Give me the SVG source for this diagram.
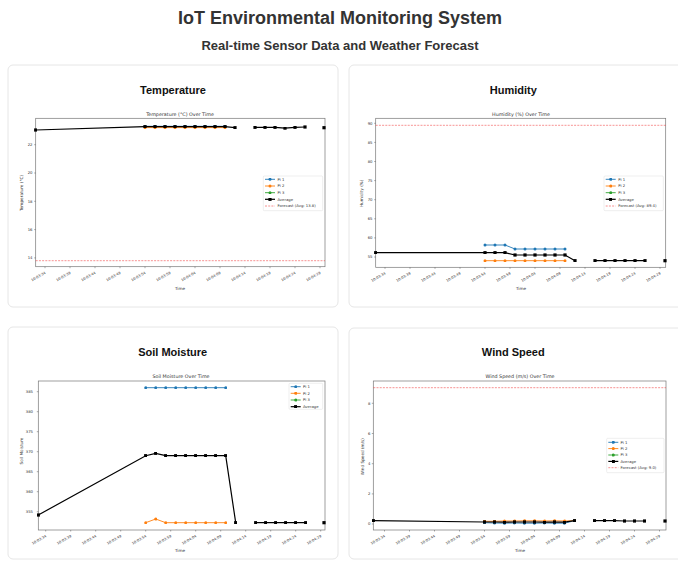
<svg xmlns="http://www.w3.org/2000/svg" width="678" height="561" viewBox="0 0 678 561">
<style>
.h1{font-family:"Liberation Sans",Arial,sans-serif;font-weight:bold;font-size:18px;fill:#333;text-anchor:middle}
.h2{font-family:"Liberation Sans",Arial,sans-serif;font-weight:bold;font-size:13px;fill:#333;text-anchor:middle}
.pt{font-family:"Liberation Sans",Arial,sans-serif;font-weight:bold;font-size:11px;fill:#111;text-anchor:middle}
.card{fill:#fff;stroke:#e6e6e6;stroke-width:1}
.ax{fill:none;stroke:#777;stroke-width:0.7}
.ct{font-family:"DejaVu Sans",sans-serif;font-size:4.8px;fill:#333;text-anchor:middle}
.al{font-family:"DejaVu Sans",sans-serif;font-size:4.2px;fill:#333;text-anchor:middle}
.yt{font-family:"DejaVu Sans",sans-serif;font-size:3.8px;fill:#333;text-anchor:end}
.xt{font-family:"DejaVu Sans",sans-serif;font-size:3.6px;fill:#333;text-anchor:end}
.lg{font-family:"DejaVu Sans",sans-serif;font-size:3.8px;fill:#333}
.tk{stroke:#555;stroke-width:0.5}
.fc{stroke:#f03030;stroke-opacity:0.75;stroke-width:0.7;stroke-dasharray:2 1.2;fill:none}
.p1{stroke:#1f77b4;stroke-width:0.9;fill:none;marker-start:url(#cb);marker-mid:url(#cb);marker-end:url(#cb)}
.p2{stroke:#ff7f0e;stroke-width:0.9;fill:none;marker-start:url(#co);marker-mid:url(#co);marker-end:url(#co)}
.p3{stroke:#2ca02c;stroke-width:0.9;fill:none;marker-start:url(#cg);marker-mid:url(#cg);marker-end:url(#cg)}
.av{stroke:#000;stroke-width:1.2;fill:none;marker-start:url(#sq);marker-mid:url(#sq);marker-end:url(#sq)}
.lb{fill:#fff;fill-opacity:0.85;stroke:#ddd;stroke-width:0.5}
</style>
<defs>
<marker id="cb" viewBox="-1.6 -1.6 3.2 3.2" markerWidth="3.2" markerHeight="3.2" markerUnits="userSpaceOnUse"><circle r="1.5" fill="#1f77b4"/></marker>
<marker id="co" viewBox="-1.6 -1.6 3.2 3.2" markerWidth="3.2" markerHeight="3.2" markerUnits="userSpaceOnUse"><circle r="1.5" fill="#ff7f0e"/></marker>
<marker id="cg" viewBox="-1.6 -1.6 3.2 3.2" markerWidth="3.2" markerHeight="3.2" markerUnits="userSpaceOnUse"><circle r="1.5" fill="#2ca02c"/></marker>
<marker id="sq" viewBox="-1.6 -1.6 3.2 3.2" markerWidth="3.2" markerHeight="3.2" markerUnits="userSpaceOnUse"><rect x="-1.6" y="-1.6" width="3.2" height="3.2" fill="#000"/></marker>
</defs>
<rect width="678" height="561" fill="#fff"/>
<g id="header">
<text class="h1" x="340" y="24">IoT Environmental Monitoring System</text>
<text class="h2" x="340" y="50">Real-time Sensor Data and Weather Forecast</text>
</g>

<g id="temperature">
<rect class="card" x="8" y="65" width="330" height="242" rx="5"/>
<text class="pt" x="173" y="94">Temperature</text>
<text class="ct" x="180" y="115.5">Temperature (°C) Over Time</text>
<rect class="ax" x="35.7" y="118.3" width="289.3" height="148.4"/>
<g class="tk">
<path d="M34.2 144.7h1.5M34.2 173h1.5M34.2 201.3h1.5M34.2 229.6h1.5M34.2 257.9h1.5"/>
<path d="M45 266.7v1.5M70 266.7v1.5M95 266.7v1.5M120 266.7v1.5M145 266.7v1.5M170 266.7v1.5M195 266.7v1.5M220 266.7v1.5M245 266.7v1.5M270 266.7v1.5M295 266.7v1.5M320 266.7v1.5"/>
</g>
<text class="yt" x="32.5" y="146">22</text>
<text class="yt" x="32.5" y="174.3">20</text>
<text class="yt" x="32.5" y="202.6">18</text>
<text class="yt" x="32.5" y="230.9">16</text>
<text class="yt" x="32.5" y="259.2">14</text>
<text class="xt" x="46" y="273.5" transform="rotate(-30 46 273.5)">10:03:34</text>
<text class="xt" x="71" y="273.5" transform="rotate(-30 71 273.5)">10:03:39</text>
<text class="xt" x="96" y="273.5" transform="rotate(-30 96 273.5)">10:03:44</text>
<text class="xt" x="121" y="273.5" transform="rotate(-30 121 273.5)">10:03:49</text>
<text class="xt" x="146" y="273.5" transform="rotate(-30 146 273.5)">10:03:54</text>
<text class="xt" x="171" y="273.5" transform="rotate(-30 171 273.5)">10:03:59</text>
<text class="xt" x="196" y="273.5" transform="rotate(-30 196 273.5)">10:04:04</text>
<text class="xt" x="221" y="273.5" transform="rotate(-30 221 273.5)">10:04:09</text>
<text class="xt" x="246" y="273.5" transform="rotate(-30 246 273.5)">10:04:14</text>
<text class="xt" x="271" y="273.5" transform="rotate(-30 271 273.5)">10:04:19</text>
<text class="xt" x="296" y="273.5" transform="rotate(-30 296 273.5)">10:04:24</text>
<text class="xt" x="321" y="273.5" transform="rotate(-30 321 273.5)">10:04:29</text>
<text class="al" x="180" y="289.5">Time</text>
<text class="al" x="23" y="193" transform="rotate(-90 23 193)">Temperature (°C)</text>
<line class="fc" x1="35.7" y1="260.7" x2="325" y2="260.7"/>
<polyline class="p1" points="145,126.3 155,126.3 165,126.3 175,126.3 185,126.3 195,126.3 205,126.3 215,126.3 225,126.3"/>
<polyline class="p2" points="145,127.6 155,127.6 165,127.6 175,127.6 185,127.6 195,127.6 205,127.6 215,127.6 225,127.6"/>
<polyline class="av" points="35.7,130 145,126.7 155,126.7 165,126.7 175,126.7 185,126.7 195,126.7 205,126.7 215,126.7 225,126.7 235,127.7"/>
<polyline class="av" points="255,127.3 265,127.3 275,127.3 285,128.1 295,127.3 305,127"/>
<rect x="322.4" y="126.1" width="3.2" height="3.2"/>
<rect class="lb" x="263.3" y="176" width="59.4" height="34.7" rx="1"/>
<polyline class="p1" points="265,179.3 270,179.3 275,179.3" style="marker-start:none;marker-end:none"/>
<polyline class="p2" points="265,186 270,186 275,186" style="marker-start:none;marker-end:none"/>
<polyline class="p3" points="265,192.7 270,192.7 275,192.7" style="marker-start:none;marker-end:none"/>
<polyline class="av" points="265,199.3 270,199.3 275,199.3" style="marker-start:none;marker-end:none"/>
<line class="fc" x1="265" y1="206" x2="275" y2="206"/>
<text class="lg" x="277.5" y="180.6">Pi 1</text>
<text class="lg" x="277.5" y="187.3">Pi 2</text>
<text class="lg" x="277.5" y="194">Pi 3</text>
<text class="lg" x="277.5" y="200.6">Average</text>
<text class="lg" x="277.5" y="207.3">Forecast (Avg: 13.8)</text>
</g>

<g id="humidity">
<rect class="card" x="349" y="65" width="340" height="242" rx="5"/>
<text class="pt" x="513.3" y="94">Humidity</text>
<text class="ct" x="521" y="115.5">Humidity (%) Over Time</text>
<rect class="ax" x="375.7" y="118.3" width="290" height="149"/>
<g class="tk">
<path d="M374.2 123.3h1.5M374.2 142.4h1.5M374.2 161.5h1.5M374.2 180.6h1.5M374.2 199.7h1.5M374.2 218.8h1.5M374.2 237.9h1.5M374.2 257h1.5"/>
<path d="M385 267.3v1.5M410 267.3v1.5M435 267.3v1.5M460 267.3v1.5M485 267.3v1.5M510 267.3v1.5M535 267.3v1.5M560 267.3v1.5M585 267.3v1.5M610 267.3v1.5M635 267.3v1.5M660 267.3v1.5"/>
</g>
<text class="yt" x="372.5" y="124.6">90</text>
<text class="yt" x="372.5" y="143.7">85</text>
<text class="yt" x="372.5" y="162.8">80</text>
<text class="yt" x="372.5" y="181.9">75</text>
<text class="yt" x="372.5" y="201">70</text>
<text class="yt" x="372.5" y="220.1">65</text>
<text class="yt" x="372.5" y="239.2">60</text>
<text class="yt" x="372.5" y="258.3">55</text>
<text class="xt" x="386" y="274" transform="rotate(-30 386 274)">10:03:34</text>
<text class="xt" x="411" y="274" transform="rotate(-30 411 274)">10:03:39</text>
<text class="xt" x="436" y="274" transform="rotate(-30 436 274)">10:03:44</text>
<text class="xt" x="461" y="274" transform="rotate(-30 461 274)">10:03:49</text>
<text class="xt" x="486" y="274" transform="rotate(-30 486 274)">10:03:54</text>
<text class="xt" x="511" y="274" transform="rotate(-30 511 274)">10:03:59</text>
<text class="xt" x="536" y="274" transform="rotate(-30 536 274)">10:04:04</text>
<text class="xt" x="561" y="274" transform="rotate(-30 561 274)">10:04:09</text>
<text class="xt" x="586" y="274" transform="rotate(-30 586 274)">10:04:14</text>
<text class="xt" x="611" y="274" transform="rotate(-30 611 274)">10:04:19</text>
<text class="xt" x="636" y="274" transform="rotate(-30 636 274)">10:04:24</text>
<text class="xt" x="661" y="274" transform="rotate(-30 661 274)">10:04:29</text>
<text class="al" x="521" y="289.8">Time</text>
<text class="al" x="363" y="193.3" transform="rotate(-90 363 193.3)">Humidity (%)</text>
<line class="fc" x1="375.7" y1="125.3" x2="665.7" y2="125.3"/>
<polyline class="p1" points="485,245 495,245 505,245 515,249 525,249 535,249 545,249 555,249 565,249"/>
<polyline class="p2" points="485,260.7 495,260.7 505,260.7 515,260.7 525,260.7 535,260.7 545,260.7 555,260.7 565,260.7"/>
<polyline class="av" points="375.7,252.7 485,252.7 495,252.7 505,252.7 515,255 525,255 535,255 545,255 555,255 565,255 575,260.7"/>
<polyline class="av" points="595,260.7 605,260.7 615,260.7 625,260.7 635,260.7 645,260.7"/>
<rect x="663.4" y="259.1" width="3.2" height="3.2"/>
<rect class="lb" x="604" y="176" width="59.3" height="34.7" rx="1"/>
<polyline class="p1" points="605.7,179.3 610.7,179.3 615.7,179.3" style="marker-start:none;marker-end:none"/>
<polyline class="p2" points="605.7,186 610.7,186 615.7,186" style="marker-start:none;marker-end:none"/>
<polyline class="p3" points="605.7,192.7 610.7,192.7 615.7,192.7" style="marker-start:none;marker-end:none"/>
<polyline class="av" points="605.7,199.3 610.7,199.3 615.7,199.3" style="marker-start:none;marker-end:none"/>
<line class="fc" x1="605.7" y1="206" x2="615.7" y2="206"/>
<text class="lg" x="618.2" y="180.6">Pi 1</text>
<text class="lg" x="618.2" y="187.3">Pi 2</text>
<text class="lg" x="618.2" y="194">Pi 3</text>
<text class="lg" x="618.2" y="200.6">Average</text>
<text class="lg" x="618.2" y="207.3">Forecast (Avg: 89.4)</text>
</g>

<g id="soil-moisture">
<rect class="card" x="8" y="327" width="330" height="232" rx="5"/>
<text class="pt" x="172.7" y="356">Soil Moisture</text>
<text class="ct" x="181" y="378.2">Soil Moisture Over Time</text>
<rect class="ax" x="38.3" y="381" width="286.7" height="149"/>
<g class="tk">
<path d="M36.8 391.7h1.5M36.8 411.7h1.5M36.8 431.7h1.5M36.8 451.7h1.5M36.8 471.7h1.5M36.8 491.7h1.5M36.8 511.7h1.5"/>
<path d="M45.7 530v1.5M70.7 530v1.5M95.7 530v1.5M120.7 530v1.5M145.7 530v1.5M170.7 530v1.5M195.7 530v1.5M220.7 530v1.5M245.7 530v1.5M270.7 530v1.5M295.7 530v1.5M320.7 530v1.5"/>
</g>
<text class="yt" x="33" y="393">385</text>
<text class="yt" x="33" y="413">380</text>
<text class="yt" x="33" y="433">375</text>
<text class="yt" x="33" y="453">370</text>
<text class="yt" x="33" y="473">365</text>
<text class="yt" x="33" y="493">360</text>
<text class="yt" x="33" y="513">355</text>
<text class="xt" x="46.7" y="536.8" transform="rotate(-30 46.7 536.8)">10:03:34</text>
<text class="xt" x="71.7" y="536.8" transform="rotate(-30 71.7 536.8)">10:03:39</text>
<text class="xt" x="96.7" y="536.8" transform="rotate(-30 96.7 536.8)">10:03:44</text>
<text class="xt" x="121.7" y="536.8" transform="rotate(-30 121.7 536.8)">10:03:49</text>
<text class="xt" x="146.7" y="536.8" transform="rotate(-30 146.7 536.8)">10:03:54</text>
<text class="xt" x="171.7" y="536.8" transform="rotate(-30 171.7 536.8)">10:03:59</text>
<text class="xt" x="196.7" y="536.8" transform="rotate(-30 196.7 536.8)">10:04:04</text>
<text class="xt" x="221.7" y="536.8" transform="rotate(-30 221.7 536.8)">10:04:09</text>
<text class="xt" x="246.7" y="536.8" transform="rotate(-30 246.7 536.8)">10:04:14</text>
<text class="xt" x="271.7" y="536.8" transform="rotate(-30 271.7 536.8)">10:04:19</text>
<text class="xt" x="296.7" y="536.8" transform="rotate(-30 296.7 536.8)">10:04:24</text>
<text class="xt" x="321.7" y="536.8" transform="rotate(-30 321.7 536.8)">10:04:29</text>
<text class="al" x="180" y="551.5">Time</text>
<text class="al" x="23" y="451" transform="rotate(-90 23 451)">Soil Moisture</text>
<polyline class="p1" points="145.7,387.7 155.7,387.7 165.7,387.7 175.7,387.7 185.7,387.7 195.7,387.7 205.7,387.7 215.7,387.7 225.7,387.7"/>
<polyline class="p2" points="145.7,522.7 155.7,519 165.7,522.7 175.7,522.7 185.7,522.7 195.7,522.7 205.7,522.7 215.7,522.7 225.7,522.7"/>
<polyline class="av" points="38.3,515 145.7,455.7 155.7,453.3 165.7,455.7 175.7,455.7 185.7,455.7 195.7,455.7 205.7,455.7 215.7,455.7 225.7,455.7 235.7,522.7"/>
<polyline class="av" points="255.7,522.7 265.7,522.7 275.7,522.7 285.7,522.7 295.7,522.7 305.7,522.7"/>
<rect x="322.4" y="521.1" width="3.2" height="3.2"/>
<rect class="lb" x="289" y="383.3" width="33.7" height="26" rx="1"/>
<polyline class="p1" points="290.7,386.7 295.7,386.7 300.7,386.7" style="marker-start:none;marker-end:none"/>
<polyline class="p2" points="290.7,393.3 295.7,393.3 300.7,393.3" style="marker-start:none;marker-end:none"/>
<polyline class="p3" points="290.7,400 295.7,400 300.7,400" style="marker-start:none;marker-end:none"/>
<polyline class="av" points="290.7,406.7 295.7,406.7 300.7,406.7" style="marker-start:none;marker-end:none"/>
<text class="lg" x="303" y="388">Pi 1</text>
<text class="lg" x="303" y="394.6">Pi 2</text>
<text class="lg" x="303" y="401.3">Pi 3</text>
<text class="lg" x="303" y="408">Average</text>
</g>

<g id="wind-speed">
<rect class="card" x="349" y="328" width="340" height="231" rx="5"/>
<text class="pt" x="513.3" y="356">Wind Speed</text>
<text class="ct" x="520" y="378.2">Wind Speed (m/s) Over Time</text>
<rect class="ax" x="373.3" y="381" width="292.7" height="149"/>
<g class="tk">
<path d="M371.8 403.3h1.5M371.8 433.5h1.5M371.8 463.7h1.5M371.8 493.9h1.5M371.8 524h1.5"/>
<path d="M384.5 530v1.5M409.5 530v1.5M434.5 530v1.5M459.5 530v1.5M484.5 530v1.5M509.5 530v1.5M534.5 530v1.5M559.5 530v1.5M584.5 530v1.5M609.5 530v1.5M634.5 530v1.5M659.5 530v1.5"/>
</g>
<text class="yt" x="370.5" y="404.6">8</text>
<text class="yt" x="370.5" y="434.8">6</text>
<text class="yt" x="370.5" y="465">4</text>
<text class="yt" x="370.5" y="495.2">2</text>
<text class="yt" x="370.5" y="525.3">0</text>
<text class="xt" x="385.5" y="536.8" transform="rotate(-30 385.5 536.8)">10:03:34</text>
<text class="xt" x="410.5" y="536.8" transform="rotate(-30 410.5 536.8)">10:03:39</text>
<text class="xt" x="435.5" y="536.8" transform="rotate(-30 435.5 536.8)">10:03:44</text>
<text class="xt" x="460.5" y="536.8" transform="rotate(-30 460.5 536.8)">10:03:49</text>
<text class="xt" x="485.5" y="536.8" transform="rotate(-30 485.5 536.8)">10:03:54</text>
<text class="xt" x="510.5" y="536.8" transform="rotate(-30 510.5 536.8)">10:03:59</text>
<text class="xt" x="535.5" y="536.8" transform="rotate(-30 535.5 536.8)">10:04:04</text>
<text class="xt" x="560.5" y="536.8" transform="rotate(-30 560.5 536.8)">10:04:09</text>
<text class="xt" x="585.5" y="536.8" transform="rotate(-30 585.5 536.8)">10:04:14</text>
<text class="xt" x="610.5" y="536.8" transform="rotate(-30 610.5 536.8)">10:04:19</text>
<text class="xt" x="635.5" y="536.8" transform="rotate(-30 635.5 536.8)">10:04:24</text>
<text class="xt" x="660.5" y="536.8" transform="rotate(-30 660.5 536.8)">10:04:29</text>
<text class="al" x="520" y="551.5">Time</text>
<text class="al" x="364" y="456.7" transform="rotate(-90 364 456.7)">Wind Speed (m/s)</text>
<line class="fc" x1="373.3" y1="387.7" x2="666" y2="387.7"/>
<polyline class="p1" points="484.5,522.7 494.5,523 504.5,523.2 514.5,523 524.5,523.2 534.5,523.2 544.5,523 554.5,523.2 564.5,523.2 574.5,520.7"/>
<polyline class="p2" points="484.5,521.3 494.5,521.3 504.5,521 514.5,521 524.5,520.8 534.5,520.8 544.5,521 554.5,520.8 564.5,521 574.5,520.7"/>
<polyline class="av" points="373.3,520.7 484.5,522 494.5,522 504.5,522.2 514.5,522 524.5,522 534.5,522 544.5,522.2 554.5,522 564.5,522.2 574.5,520.7"/>
<polyline class="av" points="594.5,520.7 604.5,520.7 614.5,520.7 624.5,521 634.5,521 644.5,521"/>
<rect x="663.4" y="519.4" width="3.2" height="3.2"/>
<rect class="lb" x="606.7" y="438.3" width="57.3" height="34.4" rx="1"/>
<polyline class="p1" points="608.3,442.3 613.3,442.3 618.3,442.3" style="marker-start:none;marker-end:none"/>
<polyline class="p2" points="608.3,448.6 613.3,448.6 618.3,448.6" style="marker-start:none;marker-end:none"/>
<polyline class="p3" points="608.3,455 613.3,455 618.3,455" style="marker-start:none;marker-end:none"/>
<polyline class="av" points="608.3,461.4 613.3,461.4 618.3,461.4" style="marker-start:none;marker-end:none"/>
<line class="fc" x1="608.3" y1="467.7" x2="618.3" y2="467.7"/>
<text class="lg" x="620.5" y="443.6">Pi 1</text>
<text class="lg" x="620.5" y="449.9">Pi 2</text>
<text class="lg" x="620.5" y="456.3">Pi 3</text>
<text class="lg" x="620.5" y="462.7">Average</text>
<text class="lg" x="620.5" y="469">Forecast (Avg: 9.0)</text>
</g>
</svg>
